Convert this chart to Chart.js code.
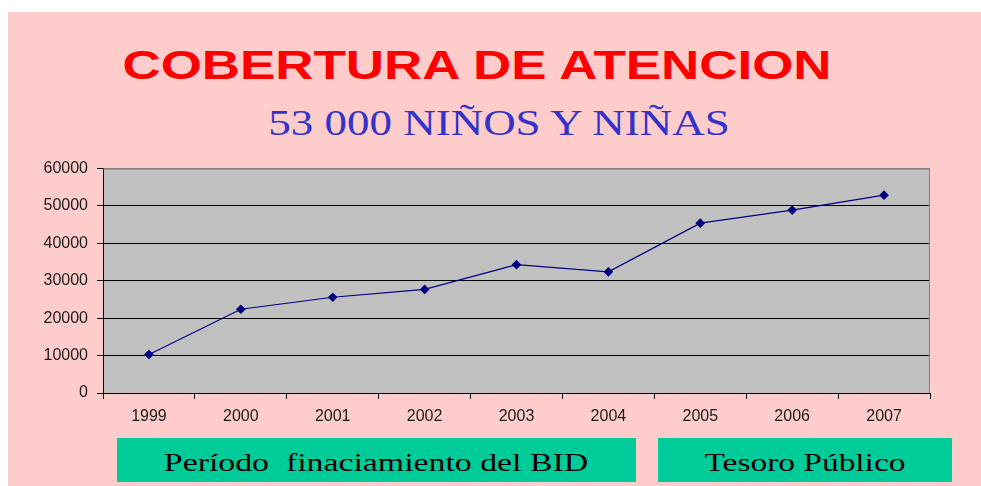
<!DOCTYPE html>
<html>
<head>
<meta charset="utf-8">
<script src="https://cdn.jsdelivr.net/npm/chart.js@4/dist/chart.umd.min.js"></script>
<style>
  html, body { margin: 0; padding: 0; background: #ffffff; width: 981px; height: 486px; overflow: hidden; }
  #slide { position: absolute; left: 8px; top: 12px; right: 0; bottom: 0; background: #FFCCCC; }
  .txt { position: absolute; text-align: center; white-space: pre; line-height: 1; transform-origin: 50% 50%; }
  #title { left: 177px; width: 600px; top: 42px; font: bold 41px "Liberation Sans", Arial, sans-serif; color: #FF0000; transform: scaleX(1.29); }
  #subtitle { left: 299px; width: 400px; top: 104px; font: 35px "Liberation Serif", "Times New Roman", serif; color: #3333CC; transform: scaleX(1.285); }
  .box { position: absolute; top: 438px; height: 44px; background: #00CC99; }
  #box1 { left: 117px; width: 519px; }
  #box2 { left: 658px; width: 294px; }
  .boxtxt { top: 448px; font: 26px "Liberation Serif", "Times New Roman", serif; color: #000000; }
  #lbl1 { left: 176px; width: 400px; transform: scaleX(1.3); }
  #lbl2 { left: 705px; width: 200px; transform: scaleX(1.285); }
  #wrap { position: absolute; left: 8px; top: 150px; width: 973px; height: 280px; }
</style>
</head>
<body>
<div id="slide"></div>
<div id="title" class="txt">COBERTURA DE ATENCION</div>
<div id="subtitle" class="txt">53 000 NIÑOS Y NIÑAS</div>
<div id="box1" class="box"></div>
<div id="box2" class="box"></div>
<div id="lbl1" class="txt boxtxt">Período  finaciamiento del BID</div>
<div id="lbl2" class="txt boxtxt">Tesoro Público</div>
<div id="wrap"><canvas id="coverageChart"></canvas></div>
<script>
const years = ['1999', '2000', '2001', '2002', '2003', '2004', '2005', '2006', '2007'];
const children = [10300, 22400, 25600, 27700, 34300, 32400, 45400, 48900, 52900];
const yMin = 0;
const yMax = 60000;
const yStep = 10000;

// gray plot area with gray top/right frame, like the old Excel chart
const plotBackground = {
    id: 'plotBackground',
    beforeDraw(chart) {
        const { ctx, chartArea: a } = chart;
        ctx.save();
        ctx.fillStyle = '#C0C0C0';
        ctx.fillRect(a.left, a.top, a.right - a.left, a.bottom - a.top);
        ctx.restore();
    },
    afterDraw(chart) {
        const { ctx, chartArea: a } = chart;
        ctx.save();
        ctx.strokeStyle = '#808080';
        ctx.lineWidth = 1;
        ctx.beginPath();
        ctx.moveTo(a.left, a.top + 0.5);
        ctx.lineTo(a.right - 0.5, a.top + 0.5);
        ctx.lineTo(a.right - 0.5, a.bottom);
        ctx.stroke();
        ctx.restore();
    }
};

const tickFont = { family: '"Liberation Sans", Arial, sans-serif', size: 16 };

new Chart(document.getElementById('coverageChart'), {
    type: 'line',
    data: {
        labels: years,
        datasets: [{
            label: 'Cobertura',
            data: children,
            borderColor: '#000080',
            backgroundColor: '#000080',
            borderWidth: 1.2,
            pointStyle: 'rectRot',
            pointRadius: 4,
            pointHoverRadius: 4,
            tension: 0,
            fill: false
        }]
    },
    options: {
        responsive: true,
        maintainAspectRatio: false,
        animation: false,
        layout: { padding: { top: 17, right: 51, bottom: 0, left: 0 } },
        plugins: {
            legend: { display: false },
            tooltip: { enabled: false }
        },
        scales: {
            x: {
                offset: true,
                grid: { offset: true, drawOnChartArea: false, drawTicks: true, tickLength: 6, color: '#000000' },
                border: { color: '#000000', width: 1 },
                ticks: { color: '#1a1a1a', font: tickFont, padding: 8, maxRotation: 0 },
                afterFit(scale) { scale.height = 37; }
            },
            y: {
                min: yMin,
                max: yMax,
                grid: {
                    color: (c) => (c.tick && c.tick.value === yMax ? '#808080' : '#000000'),
                    tickColor: '#000000',
                    tickLength: 6
                },
                border: { color: '#000000', width: 1 },
                ticks: {
                    stepSize: yStep,
                    color: '#1a1a1a',
                    font: tickFont,
                    padding: 9,
                    callback: (v) => String(v)
                },
                afterFit(scale) { scale.width = 95; }
            }
        }
    },
    plugins: [plotBackground]
});
</script>
</body>
</html>
